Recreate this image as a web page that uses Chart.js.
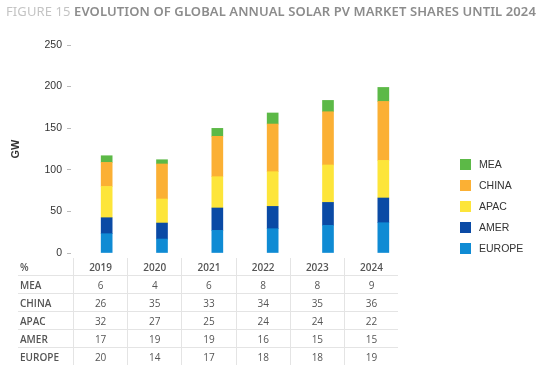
<!DOCTYPE html>
<html>
<head>
<meta charset="utf-8">
<script src="https://cdn.jsdelivr.net/npm/chart.js@4"></script>
<style>
  html, body { margin: 0; padding: 0; background: #fff; }
  #wrap { position: relative; width: 541px; height: 368px; overflow: hidden; }
  #title { position: absolute; left: 6px; top: 2px; font-family: "Noto Sans", sans-serif; font-size: 13px; font-weight: 600; color: #8c8c8c; white-space: nowrap; letter-spacing: 0.1px; }
  #title span { color: #c4c4c4; font-weight: 400; }
  canvas { position: absolute; left: 0; top: 0; }
  #legend { position: absolute; left: 460px; top: 159px; font-family: "Liberation Sans", Arial, sans-serif; font-size: 10.5px; color: #333; }
  #legend div { height: 21px; display: flex; align-items: flex-start; }
  #legend i { display: inline-block; width: 11px; height: 11px; margin-right: 8px; }
  #legend b { font-weight: normal; line-height: 11px; }
  table { position: absolute; left: 18px; top: 258px; border-collapse: collapse; font-family: "Open Sans", sans-serif; font-size: 10px; color: #555; }
  td { height: 17px; padding: 0; text-align: center; border-bottom: 1px solid #e4e4e4; border-left: 1px solid #e4e4e4; width: 53.2px; }
  td:first-child { border-left: none; text-align: left; width: 53px; padding-left: 2px; font-weight: 600; }
  tr:last-child td { border-bottom: none; }
  tr:first-child td { font-weight: 600; }
</style>
</head>
<body>
<div id="wrap">
  <canvas id="chart" width="541" height="368"></canvas>
  <div id="title"><span>FIGURE 15</span> EVOLUTION OF GLOBAL ANNUAL SOLAR PV MARKET SHARES UNTIL 2024</div>
  <div id="legend"></div>
  <table id="tbl"></table>
</div>
<script>
const years = ["2019", "2020", "2021", "2022", "2023", "2024"];
const regions = ["EUROPE", "AMER", "APAC", "CHINA", "MEA"];
const colors = ["#0f8bd4", "#0a4aa5", "#fde53a", "#fbb034", "#5cb947"];

// GW
const europeGW = [23.2, 16.8, 27.2, 29.2, 33.2, 36.4];
const amerGW = [19.2, 19.2, 26.9, 26.8, 27.6, 29.7];
const apacGW = [37.6, 28.9, 37.6, 41.7, 45.0, 45.2];
const chinaGW = [28.9, 42.1, 48.5, 57.3, 64.0, 70.9];
const meaGW = [8.0, 5.1, 9.6, 13.3, 13.6, 16.8];

// % table under the chart
const meaPct = [6, 4, 6, 8, 8, 9];
const chinaPct = [26, 35, 33, 34, 35, 36];
const apacPct = [32, 27, 25, 24, 24, 22];
const amerPct = [17, 19, 19, 16, 15, 15];
const europePct = [20, 14, 17, 18, 18, 19];

const series = [europeGW, amerGW, apacGW, chinaGW, meaGW];
const datasets = regions.map((name, i) => ({
  label: name,
  data: series[i],
  backgroundColor: colors[i],
  barThickness: 11,
}));

new Chart(document.getElementById("chart"), {
  type: "bar",
  data: { labels: years, datasets },
  options: {
    responsive: false,
    animation: false,
    layout: { padding: { left: 5, top: 45, right: 130, bottom: 115 } },
    plugins: { legend: { display: false }, tooltip: { enabled: false } },
    scales: {
      x: { stacked: true, display: false },
      y: {
        stacked: true,
        min: 0,
        max: 250,
        afterFit: (scale) => { scale.width = 74; },
        border: { display: false },
        grid: { drawOnChartArea: false, tickLength: 12, tickBorderDash: [4, 100], color: "#bbb" },
        ticks: { stepSize: 50, padding: 5, color: "#333", font: { family: "Liberation Sans", size: 10.5 } },
        title: { display: true, text: "GW", color: "#333", font: { family: "Liberation Sans", size: 11, weight: "bold" } },
      },
    },
  },
});

const legend = document.getElementById("legend");
regions.slice().reverse().forEach((name, k) => {
  const i = regions.length - 1 - k;
  legend.innerHTML += `<div><i style="background:${colors[i]}"></i><b>${name}</b></div>`;
});

const rows = [["%", years], ["MEA", meaPct], ["CHINA", chinaPct], ["APAC", apacPct], ["AMER", amerPct], ["EUROPE", europePct]];
document.getElementById("tbl").innerHTML = rows
  .map(([name, vals]) => `<tr><td>${name}</td>${vals.map((v) => `<td>${v}</td>`).join("")}</tr>`)
  .join("");
</script>
</body>
</html>
